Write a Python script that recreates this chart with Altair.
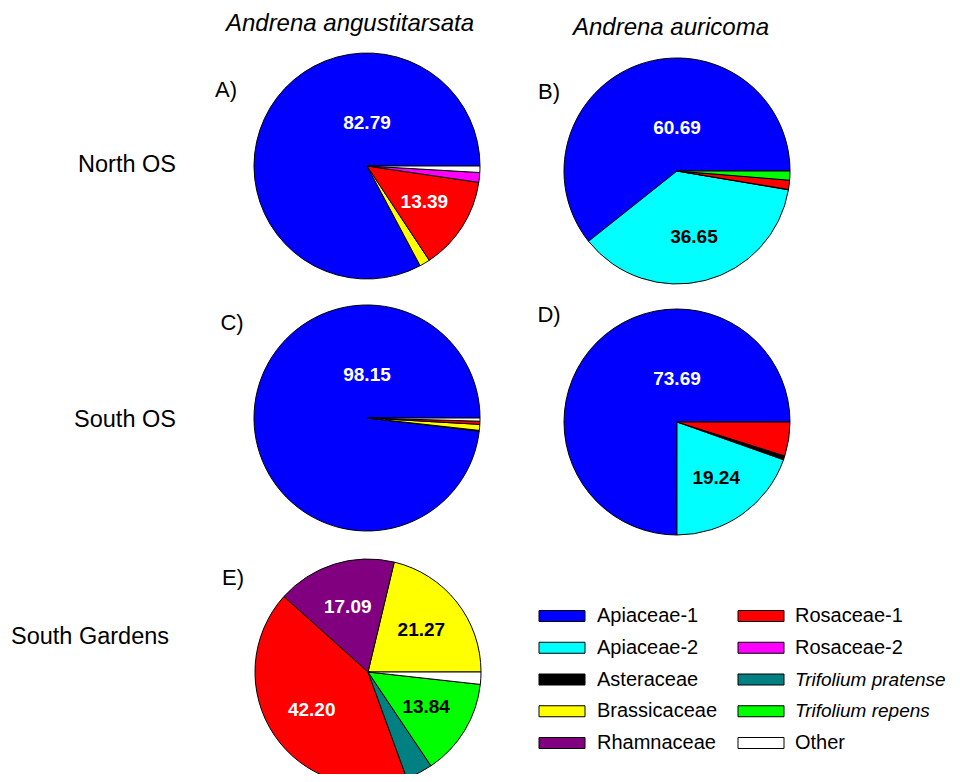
import math
import altair as alt
import pandas as pd

# ---------------- data ----------------
families = ["Apiaceae-1", "Apiaceae-2", "Asteraceae", "Brassicaceae", "Rhamnaceae",
            "Rosaceae-1", "Rosaceae-2", "Trifolium pratense", "Trifolium repens", "Other"]
colors = ["#0000FF", "#00FFFF", "#000000", "#FFFF00", "#800080",
          "#FF0000", "#FF00FF", "#008080", "#00FF00", "#FFFFFF"]

pie_A = [82.79, 0, 0, 1.50, 0, 13.39, 1.40, 0, 0, 0.92]      # North OS, A. angustitarsata
pie_B = [60.69, 36.65, 0.05, 0, 0, 1.31, 0, 0, 1.30, 0]      # North OS, A. auricoma
pie_C = [98.15, 0, 0.10, 0.85, 0, 0.45, 0, 0, 0, 0.45]       # South OS, A. angustitarsata
pie_D = [73.69, 19.24, 0.56, 0, 0, 4.77, 0, 0, 0, 0]         # South OS, A. auricoma
pie_E = [0, 0, 0, 21.27, 17.09, 42.20, 0, 3.85, 13.84, 1.75] # South Gardens, A. angustitarsata

species = ["Andrena angustitarsata", "Andrena auricoma"]
sites = ["North OS", "South OS", "South Gardens"]
panel_letters = ["A)", "B)", "C)", "D)", "E)"]
white_text = ["Apiaceae-1", "Rosaceae-1", "Rhamnaceae"]

# ---------------- layout ----------------
FONT = "Liberation Sans"
R = 113
centers = [(359, 158), (669, 163), (359, 410), (669, 414), (360, 664)]
letter_pos = [(218, 82), (541, 84), (224, 315), (541, 307), (225, 570)]
species_pos = [(342, 16), (663, 20)]
site_pos = [(119, 157), (117, 412), (82, 629)]

color_scale = alt.Scale(domain=families, range=colors)
theta_scale = alt.Scale(range=[math.pi / 2, math.pi / 2 + 2 * math.pi])

layers = []
for vals, (cx, cy) in zip([pie_A, pie_B, pie_C, pie_D, pie_E], centers):
    df = pd.DataFrame({"family": families, "idx": list(range(len(families))), "value": vals})
    base = alt.Chart(df).transform_filter("datum.value > 0")
    arcs = base.mark_arc(radius=R, stroke="black", strokeWidth=1).encode(
        theta=alt.Theta("value:Q", stack="normalize", scale=theta_scale),
        color=alt.Color("family:N", scale=color_scale, legend=None),
        order=alt.Order("idx:Q", sort="descending"),
        x=alt.value(cx), y=alt.value(cy),
    )
    labels = base.transform_joinaggregate(total="sum(value)").transform_window(
        cum="sum(value)", sort=[alt.SortField("idx", order="ascending")], frame=[None, 0]
    ).transform_calculate(
        frac="datum.value / datum.total",
        mid="(datum.cum - datum.value / 2) / datum.total",
    ).transform_calculate(
        phi="datum.frac > 0.5 ? PI / 2 : 2 * PI * datum.mid",
        r="datum.frac > 0.5 ? 43 : 68",
        tc="indexof(%s, datum.family) >= 0 ? 'white' : 'black'" % str(white_text),
    ).transform_calculate(
        lx=f"{cx} + datum.r * cos(datum.phi)",
        ly=f"{cy} - datum.r * sin(datum.phi)",
    ).transform_filter("datum.value >= 10").mark_text(
        font=FONT, fontSize=19, fontWeight="bold", align="center", baseline="middle"
    ).encode(
        x=alt.X("lx:Q", scale=None), y=alt.Y("ly:Q", scale=None),
        text=alt.Text("value:Q", format=".2f"),
        color=alt.Color("tc:N", scale=None, legend=None),
    )
    layers += [arcs, labels]

# annotations
def txt(s, x, y, size, style="normal"):
    return alt.Chart(pd.DataFrame({"t": [s]})).mark_text(
        font=FONT, fontSize=size, fontStyle=style, align="center", baseline="middle", color="black"
    ).encode(text="t:N", x=alt.value(x), y=alt.value(y))

for s, (x, y) in zip(species, species_pos):
    layers.append(txt(s, x, y, 24, "italic"))
for s, (x, y) in zip(sites, site_pos):
    layers.append(txt(s, x, y, 23.5))
for s, (x, y) in zip(panel_letters, letter_pos):
    layers.append(txt(s, x, y, 22))

# legend
leg = pd.DataFrame({"family": families, "idx": list(range(len(families)))})
legbase = alt.Chart(leg).transform_calculate(
    col="floor(datum.idx / 5)", row="datum.idx % 5"
).transform_calculate(
    x1="531 + datum.col * 199", x2="577 + datum.col * 199",
    yc="608 + datum.row * 31.75",
    tx="589 + datum.col * 198",
).transform_calculate(y1="datum.yc - 5.5", y2="datum.yc + 5.5")
leg_rect = legbase.mark_rect(stroke="black", strokeWidth=1).encode(
    x=alt.X("x1:Q", scale=None), x2="x2:Q",
    y=alt.Y("y1:Q", scale=None), y2="y2:Q",
    color=alt.Color("family:N", scale=color_scale, legend=None),
)
leg_txt_n = legbase.transform_filter("indexof(datum.family, 'Trifolium') < 0").mark_text(
    font=FONT, fontSize=20, align="left", baseline="middle", color="black"
).encode(x=alt.X("tx:Q", scale=None), y=alt.Y("yc:Q", scale=None), text="family:N")
leg_txt_i = legbase.transform_filter("indexof(datum.family, 'Trifolium') >= 0").mark_text(
    font=FONT, fontSize=19, fontStyle="italic", align="left", baseline="middle", color="black"
).encode(x=alt.X("tx:Q", scale=None), y=alt.Y("yc:Q", scale=None), text="family:N")
layers += [leg_rect, leg_txt_n, leg_txt_i]

chart = alt.layer(*layers).properties(
    width=944, height=766, padding=0, autosize="none"
).configure_view(stroke=None)

chart.save("out.html", embed_options={"renderer": "svg", "actions": False})
